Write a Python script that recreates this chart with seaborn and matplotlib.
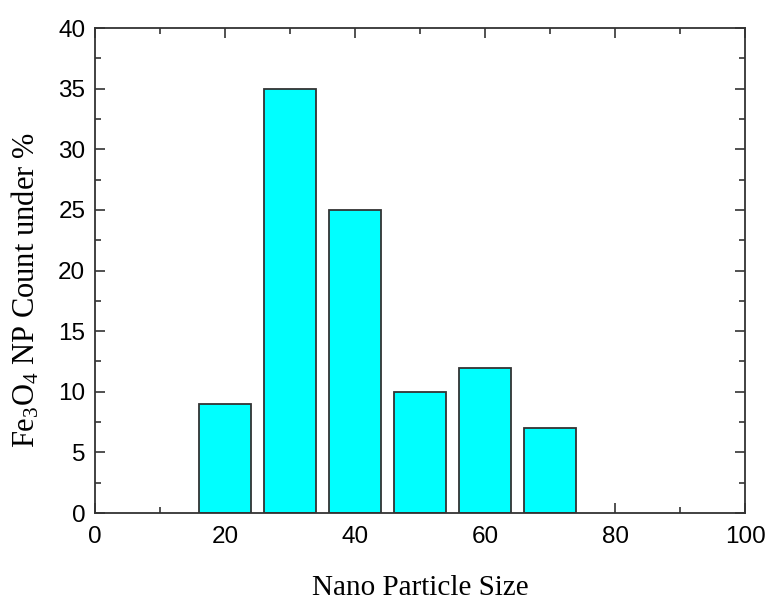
import matplotlib
matplotlib.use("Agg")
import matplotlib.pyplot as plt
import seaborn as sns
import pandas as pd
from matplotlib.ticker import MultipleLocator

# Particle size bins (nm) and share of counted Fe3O4 nanoparticles (%)
sizes = [20, 30, 40, 50, 60, 70]
counts = [9, 35, 25, 10, 12, 7]

df = pd.DataFrame({"size": sizes, "count": counts})

sns.set_theme(style="white")
plt.rcParams["font.family"] = ["Liberation Sans", "DejaVu Sans"]
plt.rcParams["mathtext.fontset"] = "custom"
plt.rcParams["mathtext.rm"] = "Liberation Serif"
plt.rcParams["mathtext.it"] = "Liberation Serif:italic"
plt.rcParams["text.color"] = "black"
plt.rcParams["axes.labelcolor"] = "black"

fig = plt.figure(figsize=(7.71, 6.01), dpi=100)
ax = fig.add_axes([0.1232, 0.1464, 0.8431, 0.807])

sns.barplot(data=df, x="size", y="count", native_scale=True, width=0.8,
            color="#00FFFF", saturation=1, edgecolor="#333333", linewidth=1.3,
            ax=ax)

ax.set_xlim(0, 100)
ax.set_ylim(0, 40)
ax.xaxis.set_major_locator(MultipleLocator(20))
ax.xaxis.set_minor_locator(MultipleLocator(10))
ax.yaxis.set_major_locator(MultipleLocator(5))
ax.yaxis.set_minor_locator(MultipleLocator(2.5))

ax.tick_params(which="both", direction="in", top=True, right=True,
               bottom=True, left=True, color="#333333", width=1.2)
ax.tick_params(which="major", length=7, labelsize=17.5, pad=7, labelcolor="black")
ax.tick_params(axis="x", which="major", pad=9)
ax.tick_params(which="minor", length=4)

for sp in ax.spines.values():
    sp.set_visible(True)
    sp.set_color("#333333")
    sp.set_linewidth(1.3)

ax.set_xlabel("Nano Particle Size", color="black",
              fontdict={"family": ["Liberation Serif", "DejaVu Serif"], "size": 21})
ax.set_ylabel(r"Fe$_3$O$_4$ NP Count under %", color="black",
              fontdict={"family": ["Liberation Serif", "DejaVu Serif"], "size": 22})
ax.xaxis.set_label_coords(0.5, -0.127)
ax.yaxis.set_label_coords(-0.082, 0.46)

fig.savefig("out.png", dpi=100)
